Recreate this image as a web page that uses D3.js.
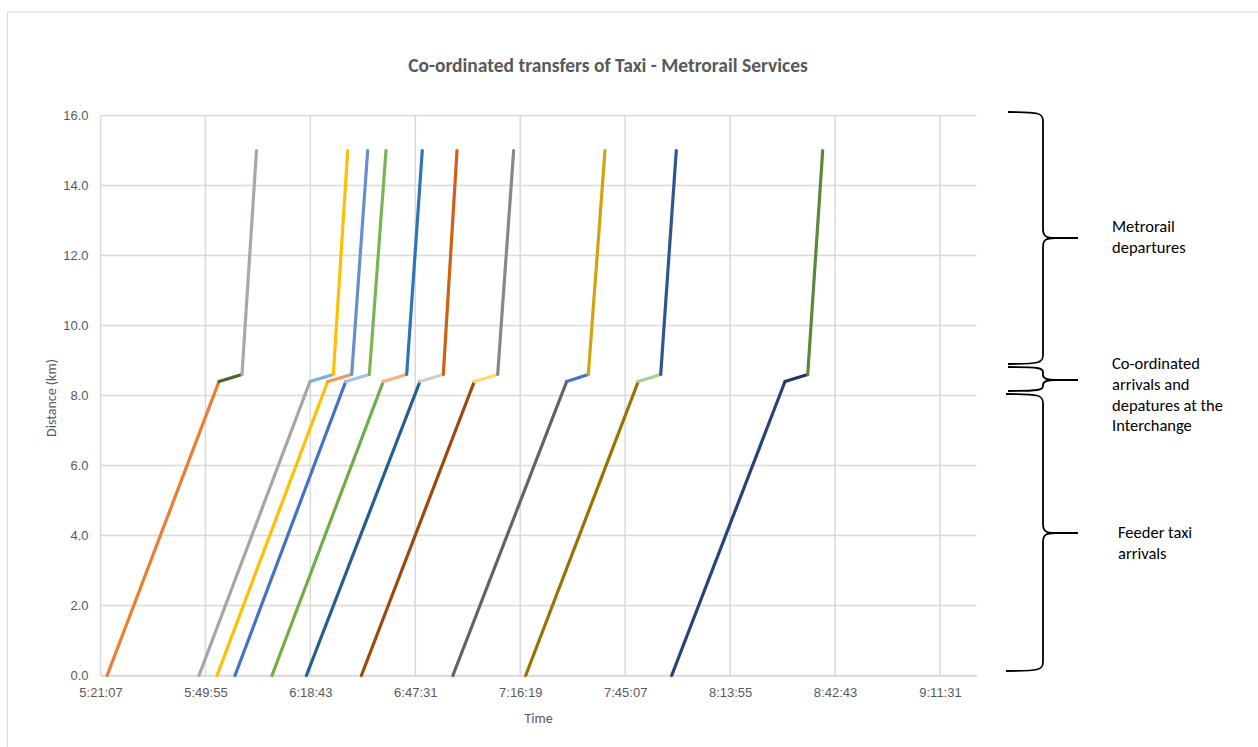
<!DOCTYPE html>
<html>
<head>
<meta charset="utf-8">
<script src="https://cdn.jsdelivr.net/npm/d3@7"></script>
<style>
  html, body { margin: 0; padding: 0; background: #fff; }
  svg { display: block; font-family: Carlito, Calibri, "Open Sans", sans-serif; }
</style>
</head>
<body>
<svg id="chart" width="1258" height="747"></svg>
<script>
// Time-axis labels (major unit 28:48)
const timeTicks = ["5:21:07", "5:49:55", "6:18:43", "6:47:31", "7:16:19", "7:45:07", "8:13:55", "8:42:43", "9:11:31"];
const distanceTicks = [0, 2, 4, 6, 8, 10, 12, 14, 16];

// Distances of the four stops along every journey (km)
const stopDistances = [0, 8.4, 8.6, 15];

// Feeder taxi departures, interchange arrivals, metrorail departures, metrorail end points
const taxiDepart       = ["5:22:56", "5:48:09", "5:53:06", "5:58:02", "6:08:11", "6:17:38", "6:32:43", "6:57:50", "7:17:49", "7:57:53"];
const interchangeArr   = ["5:53:38", "6:18:37", "6:23:29", "6:28:25", "6:38:44", "6:48:48", "7:03:43", "7:29:04", "7:48:43", "8:28:59"];
const metroDepart      = ["5:59:57", "6:25:01", "6:30:04", "6:34:54", "6:45:09", "6:55:12", "7:10:08", "7:35:00", "7:54:52", "8:35:13"];
const metroEnd         = ["6:03:56", "6:28:58", "6:34:27", "6:39:29", "6:49:26", "6:58:58", "7:14:31", "7:39:35", "7:59:09", "8:39:20"];

const taxiColors     = ["#ED7D31", "#A5A5A5", "#FFC000", "#4472C4", "#70AD47", "#255E91", "#9E480E", "#636363", "#997300", "#264478"];
const transferColors = ["#43682B", "#7CAFDD", "#F1975A", "#9DC3E6", "#F4B183", "#D0CEC6", "#FFD966", "#4472C4", "#A9D18E", "#203864"];
const metroColors    = ["#ABA7A2", "#FFC000", "#698ED0", "#7AB553", "#2E75B6", "#D26012", "#8A8784", "#D4A20A", "#2F5597", "#5A8A39"];

const toSec = s => { const p = s.split(":").map(Number); return p[0] * 3600 + p[1] * 60 + p[2]; };
const fmt = v => {
  const t = Math.round(v);
  const h = Math.floor(t / 3600), m = Math.floor((t % 3600) / 60), s = t % 60;
  return h + ":" + String(m).padStart(2, "0") + ":" + String(s).padStart(2, "0");
};

const xMin = 0.223 * 86400, xMax = 0.39 * 86400, major = 0.02 * 86400;
const tickVals = timeTicks.map((_, i) => xMin + i * major);

const svg = d3.select("#chart");
const grey = "#595959", gridCol = "#D9D9D9";

// Outer chart border
svg.append("rect").attr("x", 7.5).attr("y", 12).attr("width", 1262).attr("height", 760)
  .attr("fill", "none").attr("stroke", gridCol).attr("stroke-width", 1);

const x = d3.scaleLinear().domain([xMin, xMax]).range([100.5, 976.7]);
const y = d3.scaleLinear().domain([0, 16]).range([675.5, 115.5]);

// Gridlines
const grid = svg.append("g");
grid.selectAll("line.h").data(distanceTicks).join("line")
  .attr("x1", x.range()[0]).attr("x2", x.range()[1])
  .attr("y1", d => y(d)).attr("y2", d => y(d))
  .attr("stroke", gridCol).attr("stroke-width", 1.5);
grid.selectAll("line.v").data(tickVals).join("line")
  .attr("x1", d => x(d)).attr("x2", d => x(d))
  .attr("y1", y(0)).attr("y2", y(16))
  .attr("stroke", gridCol).attr("stroke-width", 1.5);

// Axes
const xAxis = d3.axisBottom(x).tickValues(tickVals).tickFormat(fmt).tickSize(0).tickPadding(12);
const gx = svg.append("g").attr("transform", `translate(0,${y(0)})`).call(xAxis);
gx.select(".domain").attr("stroke", gridCol).attr("stroke-width", 1.5);
gx.selectAll("text").attr("fill", grey).attr("font-size", 13).attr("font-family", null);

const yAxis = d3.axisLeft(y).tickValues(distanceTicks).tickFormat(d3.format(".1f")).tickSize(0).tickPadding(12);
const gy = svg.append("g").attr("transform", `translate(${x(xMin)},0)`).call(yAxis);
gy.select(".domain").remove();
gy.selectAll("text").attr("fill", grey).attr("font-size", 13).attr("font-family", null);

// Journey segments: taxi leg, interchange transfer, metrorail leg
const journeys = taxiDepart.map((t, i) => {
  const times = [t, interchangeArr[i], metroDepart[i], metroEnd[i]].map(toSec);
  const pts = times.map((tt, k) => [tt, stopDistances[k]]);
  return [
    { pts: [pts[0], pts[1]], color: taxiColors[i] },
    { pts: [pts[1], pts[2]], color: transferColors[i] },
    { pts: [pts[2], pts[3]], color: metroColors[i] }
  ];
});
const line = d3.line().x(d => x(d[0])).y(d => y(d[1]));
svg.append("g").selectAll("path").data(journeys.flat()).join("path")
  .attr("d", d => line(d.pts))
  .attr("fill", "none").attr("stroke", d => d.color)
  .attr("stroke-width", 3.2).attr("stroke-linecap", "round");

// Titles
svg.append("text").attr("x", 608).attr("y", 72).attr("text-anchor", "middle")
  .attr("font-size", 19.5).attr("font-weight", "bold").attr("fill", grey)
  .text("Co-ordinated transfers of Taxi - Metrorail Services");
svg.append("text").attr("x", (x.range()[0] + x.range()[1]) / 2).attr("y", 723).attr("text-anchor", "middle")
  .attr("font-size", 14).attr("fill", grey).text("Time");
svg.append("text").attr("transform", "translate(56,398) rotate(-90)").attr("text-anchor", "middle")
  .attr("font-size", 14).attr("fill", grey).text("Distance (km)");

// Curly braces marking the three phases
function brace(xl, xm, xt, yt, ym, yb, r) {
  return `M${xl},${yt} C${xm - 4},${yt} ${xm},${yt + 1} ${xm},${yt + r}` +
         ` L${xm},${ym - r} C${xm},${ym - 2} ${xm + 3},${ym} ${xm + 12},${ym} L${xt},${ym}` +
         ` M${xm + 12},${ym} C${xm + 3},${ym} ${xm},${ym + 2} ${xm},${ym + r}` +
         ` L${xm},${yb - r} C${xm},${yb - 1} ${xm - 4},${yb} ${xl},${yb}`;
}
const braces = svg.append("g").attr("fill", "none").attr("stroke", "#000").attr("stroke-width", 1.8);
braces.append("path").attr("d", brace(1008, 1043, 1078, 112, 238, 364, 9));
braces.append("path").attr("d", brace(1008, 1043, 1078, 367, 380, 391, 5));
braces.append("path").attr("d", brace(1006, 1043, 1078, 394, 533, 671, 9));

// Annotation text
const notes = [
  { x: 1112, y: 232, lines: ["Metrorail", "departures"] },
  { x: 1112, y: 369, lines: ["Co-ordinated", "arrivals and", "depatures at the", "Interchange"] },
  { x: 1118, y: 538, lines: ["Feeder taxi", "arrivals"] }
];
notes.forEach(n => {
  const t = svg.append("text").attr("x", n.x).attr("y", n.y).attr("font-size", 16.5).attr("fill", "#000");
  n.lines.forEach((l, i) => t.append("tspan").attr("x", n.x).attr("dy", i === 0 ? 0 : 20.8).text(l));
});
</script>
</body>
</html>
